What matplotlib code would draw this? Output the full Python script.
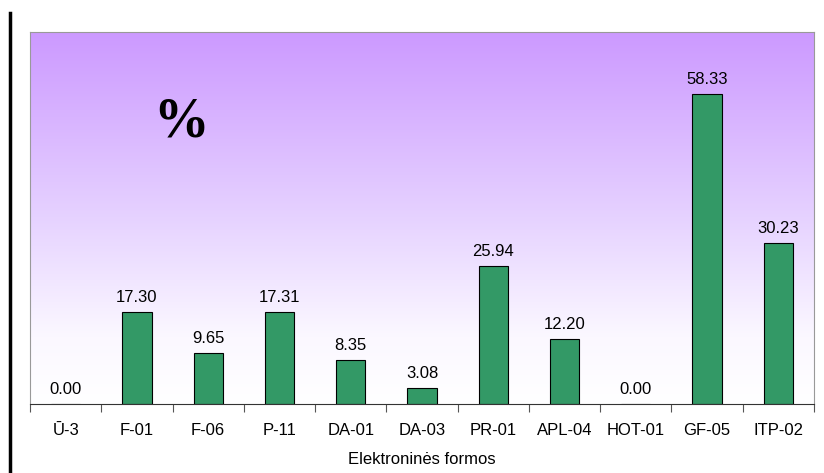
import numpy as np
import matplotlib.pyplot as plt
from matplotlib.colors import LinearSegmentedColormap

forms = ["Ū-3", "F-01", "F-06", "P-11", "DA-01", "DA-03", "PR-01", "APL-04", "HOT-01", "GF-05", "ITP-02"]
percent = [0.00, 17.30, 9.65, 17.31, 8.35, 3.08, 25.94, 12.20, 0.00, 58.33, 30.23]

plt.rcParams['font.family'] = ['Liberation Sans', 'DejaVu Sans']

fig = plt.figure(figsize=(8.24, 4.73), dpi=100)
ax = fig.add_axes([30 / 824, 1 - 404 / 473, 784 / 824, 372 / 473])

# purple to white gradient background
cmap = LinearSegmentedColormap.from_list(
    "bg", [(0, "#ffffff"), (0.18, "#fbf8ff"), (0.5, "#e6d2ff"), (1, "#cc99ff")])
grad = np.linspace(0, 1, 256).reshape(-1, 1)
ax.imshow(grad, aspect='auto', cmap=cmap, origin='lower',
          extent=[-0.5, len(forms) - 0.5, 0, 70], zorder=0)

x = np.arange(len(forms))
ax.bar(x, percent, width=0.41, color="#339966", edgecolor="black", linewidth=0.8, zorder=2)
for xi, v in zip(x, percent):
    ax.text(xi, v + 1.3, f"{v:.2f}", ha='center', va='bottom', fontsize=12, zorder=3)

ax.set_xlim(-0.5, len(forms) - 0.5)
ax.set_ylim(0, 70)
ax.set_yticks([])
ax.set_xticks(np.arange(len(forms) + 1) - 0.5)
ax.set_xticklabels([])
ax.set_xticks(x, minor=True)
ax.set_xticklabels(forms, minor=True, fontsize=12)
ax.tick_params(axis='x', which='major', length=6, width=0.8, color='#555555')
ax.tick_params(axis='x', which='minor', length=0, pad=14)
ax.set_xlabel("Elektroninės formos", fontsize=12, labelpad=10)

for s in ['top', 'right', 'left']:
    ax.spines[s].set_color('#999999')
ax.spines['bottom'].set_color('#333333')

ax.text(0.193, 0.758, "%", transform=ax.transAxes, fontsize=40, fontweight='heavy',
        family='Liberation Serif', ha='center', va='center')

# black line at the left
fig.add_artist(plt.Line2D([10 / 824, 10 / 824], [0, 1 - 13 / 473], color='black', linewidth=2.5))

fig.savefig("out.png", dpi=100)
